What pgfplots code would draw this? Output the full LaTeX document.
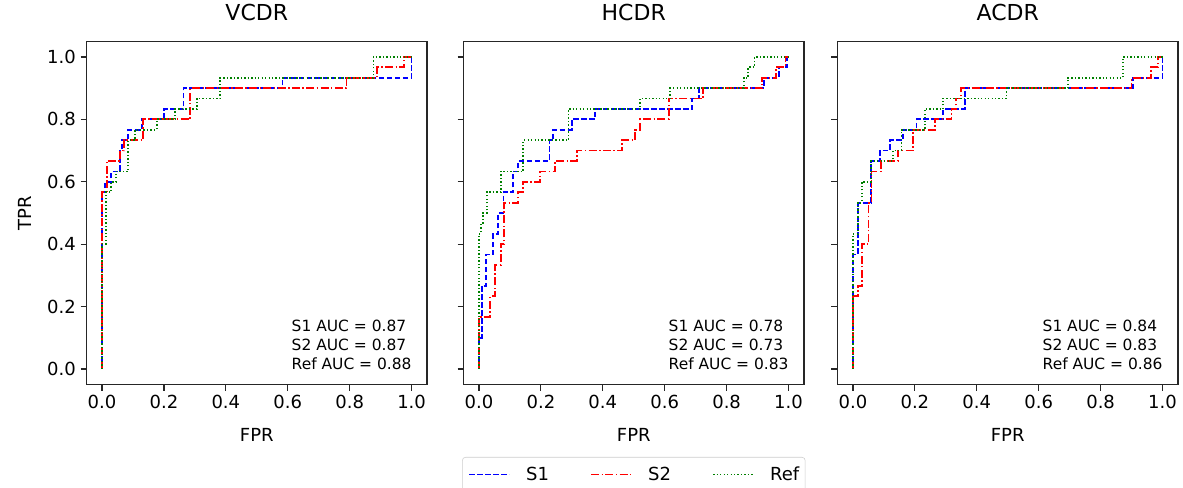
\documentclass[border=0pt]{standalone}
\usepackage{fontspec}
\setmainfont{DejaVu Sans}
\usepackage{pgfplots}
\pgfplotsset{compat=1.18}

\definecolor{cSone}{rgb}{0,0,1}
\definecolor{cStwo}{rgb}{1,0,0}
\definecolor{cRef}{rgb}{0,0.5,0}

\tikzset{auc/.style={anchor=west, font=\fontsize{11.6}{14}\selectfont, inner sep=0pt}}

\pgfplotsset{
  rocax/.style={
    scale only axis, width=255.4pt, height=257.4pt,
    xmin=-0.05, xmax=1.05, ymin=-0.05, ymax=1.05,
    xtick={0,0.2,0.4,0.6,0.8,1}, ytick={0,0.2,0.4,0.6,0.8,1},
    /pgf/number format/fixed, /pgf/number format/fixed zerofill,
    /pgf/number format/precision=1,
    /pgf/number format/assume math mode=true,
    tick align=outside, tick pos=left, major tick length=4.5pt,
    axis line style={line width=0.9pt, black!85},
    tick style={line width=0.9pt, black!85},
    tick label style={font=\fontsize{13.5}{16}\selectfont},
    label style={font=\fontsize{13.5}{16}\selectfont},
    title style={font=\fontsize{16.5}{20}\selectfont, yshift=6pt},
    xlabel={FPR},
    xlabel style={at={(axis description cs:0.5,-0.146)}, anchor=center},
    legend image code/.code={\draw[#1] (0pt,0pt) -- (30pt,0pt);},
  },
  pS1/.style={cSone, line width=1.35pt, dash pattern=on 4.1pt off 1.9pt},
  pS2/.style={cStwo, line width=1.35pt, dash pattern=on 6pt off 1.8pt on 1.1pt off 1.8pt},
  pRef/.style={cRef, line width=1.35pt, dash pattern=on 1pt off 1.6pt},
}

\begin{document}
\begin{tikzpicture}
\path[use as bounding box] (-64.9pt,-77.55pt) rectangle (822.4pt,288.45pt);

% VCDR
\begin{axis}[rocax, at={(0pt,0pt)}, title={VCDR}, ylabel={TPR},
  ylabel style={at={(axis description cs:-0.181,0.5)}, anchor=center}]
\addplot[pS1] coordinates {
  (0,0)(0,0.567)(0.01,0.567)(0.01,0.6)(0.03,0.6)(0.03,0.633)(0.058,0.633)
  (0.058,0.7)(0.065,0.7)(0.065,0.733)(0.085,0.733)(0.085,0.767)(0.13,0.767)
  (0.13,0.8)(0.2,0.8)(0.2,0.833)(0.263,0.833)(0.263,0.9)(0.583,0.9)
  (0.583,0.933)(1,0.933)(1,1)
};
\addplot[pS2] coordinates {
  (0,0)(0,0.567)(0.015,0.567)(0.015,0.667)(0.058,0.667)(0.058,0.7)(0.07,0.7)
  (0.07,0.733)(0.133,0.733)(0.133,0.8)(0.285,0.8)(0.285,0.9)(0.79,0.9)
  (0.79,0.933)(0.889,0.933)(0.889,0.967)(0.975,0.967)(0.975,1)(1,1)
};
\addplot[pRef] coordinates {
  (0,0)(0,0.4)(0.012,0.4)(0.012,0.567)(0.03,0.567)(0.03,0.6)(0.045,0.6)
  (0.045,0.633)(0.085,0.633)(0.085,0.733)(0.107,0.733)(0.107,0.767)
  (0.177,0.767)(0.177,0.8)(0.236,0.8)(0.236,0.833)(0.306,0.833)(0.306,0.867)
  (0.382,0.867)(0.382,0.933)(0.877,0.933)(0.877,1)(1,1)
};
\node[auc] at (axis cs:0.612,0.138) {S1 AUC = 0.87};
\node[auc] at (axis cs:0.612,0.077) {S2 AUC = 0.87};
\node[auc] at (axis cs:0.612,0.016) {Ref AUC = 0.88};
\end{axis}

% HCDR
\begin{axis}[rocax, at={(282.75pt,0pt)}, title={HCDR}, yticklabels={},
  legend style={at={(0.5,-0.211)}, anchor=north, legend columns=3,
    draw=black!20, rounded corners=2.5pt, inner xsep=4.5pt, inner ysep=7pt,
    font=\fontsize{13.5}{16}\selectfont, nodes={inner sep=0pt},
    /tikz/every odd column/.append style={column sep=12pt},
    /tikz/every even column/.append style={column sep=31pt}}]
\addplot[pS1] coordinates {
  (0,0)(0,0.1)(0.009,0.1)(0.009,0.267)(0.023,0.267)(0.023,0.367)(0.046,0.367)
  (0.046,0.433)(0.062,0.433)(0.062,0.5)(0.079,0.5)(0.079,0.567)(0.111,0.567)
  (0.111,0.633)(0.127,0.633)(0.127,0.667)(0.228,0.667)(0.228,0.733)(0.24,0.733)
  (0.24,0.767)(0.3,0.767)(0.3,0.8)(0.375,0.8)(0.375,0.833)(0.688,0.833)
  (0.688,0.867)(0.71,0.867)(0.71,0.9)(0.92,0.9)(0.92,0.933)(0.968,0.933)
  (0.968,0.967)(0.996,0.967)(0.996,1)(1,1)
};
\addlegendentry{S1}
\addplot[pS2] coordinates {
  (0,0)(0,0.167)(0.036,0.167)(0.036,0.233)(0.052,0.233)(0.052,0.333)(0.07,0.333)
  (0.07,0.4)(0.082,0.4)(0.082,0.533)(0.127,0.533)(0.127,0.567)(0.143,0.567)
  (0.143,0.6)(0.197,0.6)(0.197,0.633)(0.246,0.633)(0.246,0.667)(0.316,0.667)
  (0.316,0.7)(0.462,0.7)(0.462,0.733)(0.505,0.733)(0.505,0.767)(0.521,0.767)
  (0.521,0.8)(0.613,0.8)(0.613,0.867)(0.724,0.867)(0.724,0.9)(0.915,0.9)
  (0.915,0.933)(0.96,0.933)(0.96,0.967)(0.99,0.967)(0.99,1)(1,1)
};
\addlegendentry{S2}
\addplot[pRef] coordinates {
  (0,0)(0,0.433)(0.006,0.433)(0.006,0.467)(0.012,0.467)(0.012,0.5)(0.025,0.5)
  (0.025,0.567)(0.07,0.567)(0.07,0.633)(0.143,0.633)(0.143,0.733)(0.289,0.733)
  (0.289,0.833)(0.52,0.833)(0.52,0.867)(0.618,0.867)(0.618,0.9)(0.855,0.9)
  (0.855,0.933)(0.87,0.933)(0.87,0.967)(0.89,0.967)(0.89,1)(1,1)
};
\addlegendentry{Ref}
\node[auc] at (axis cs:0.612,0.138) {S1 AUC = 0.78};
\node[auc] at (axis cs:0.612,0.077) {S2 AUC = 0.73};
\node[auc] at (axis cs:0.612,0.016) {Ref AUC = 0.83};
\end{axis}

% ACDR
\begin{axis}[rocax, at={(563.25pt,0pt)}, title={ACDR}, yticklabels={}]
\addplot[pS1] coordinates {
  (0,0)(0,0.367)(0.015,0.367)(0.015,0.533)(0.058,0.533)(0.058,0.667)
  (0.087,0.667)(0.087,0.7)(0.119,0.7)(0.119,0.733)(0.162,0.733)(0.162,0.767)
  (0.205,0.767)(0.205,0.8)(0.291,0.8)(0.291,0.833)(0.361,0.833)(0.361,0.9)
  (0.905,0.9)(0.905,0.933)(1,0.933)(1,1)
};
\addplot[pS2] coordinates {
  (0,0)(0,0.233)(0.015,0.233)(0.015,0.267)(0.028,0.267)(0.028,0.4)(0.05,0.4)
  (0.05,0.533)(0.06,0.533)(0.06,0.633)(0.09,0.633)(0.09,0.667)(0.146,0.667)
  (0.146,0.7)(0.195,0.7)(0.195,0.767)(0.265,0.767)(0.265,0.8)(0.318,0.8)
  (0.318,0.833)(0.334,0.833)(0.334,0.867)(0.35,0.867)(0.35,0.9)(0.9,0.9)
  (0.9,0.933)(0.963,0.933)(0.963,0.967)(0.985,0.967)(0.985,1)(1,1)
};
\addplot[pRef] coordinates {
  (0,0)(0,0.433)(0.015,0.433)(0.015,0.533)(0.028,0.533)(0.028,0.6)(0.058,0.6)
  (0.058,0.667)(0.129,0.667)(0.129,0.7)(0.157,0.7)(0.157,0.767)(0.232,0.767)
  (0.232,0.833)(0.291,0.833)(0.291,0.867)(0.496,0.867)(0.496,0.9)(0.695,0.9)
  (0.695,0.933)(0.872,0.933)(0.872,1)(1,1)
};
\node[auc] at (axis cs:0.612,0.138) {S1 AUC = 0.84};
\node[auc] at (axis cs:0.612,0.077) {S2 AUC = 0.83};
\node[auc] at (axis cs:0.612,0.016) {Ref AUC = 0.86};
\end{axis}
\end{tikzpicture}
\end{document}
